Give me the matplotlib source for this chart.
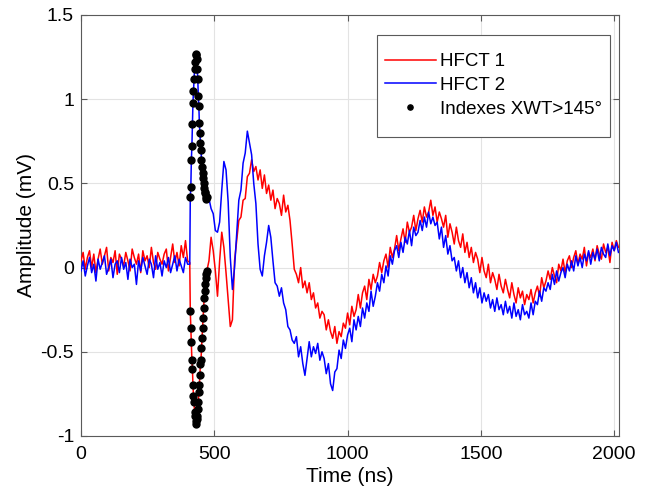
import numpy as np
import matplotlib.pyplot as plt
from matplotlib.patches import Rectangle

plt.rcParams["font.family"] = ["Liberation Sans", "DejaVu Sans"]

# sample spacing (ns) of the three recorded stretches
step_pre, step_spike, step_post = 8, 2, 8
t0_pre, t0_spike, t0_post = 0, 408, 480

# HFCT 1 (red)
hfct1_pre = [0.04, 0.09, -0.01, 0.06, 0.10, 0.00, 0.08, -0.03, 0.05, 0.11,
             0.02, 0.07, 0.12, -0.02, 0.06, 0.03, 0.10, -0.04, 0.08, 0.05,
             0.01, 0.09, 0.04, -0.02, 0.11, 0.06, 0.02, 0.08, -0.03, 0.10,
             0.04, 0.07, 0.00, 0.12, 0.03, -0.01, 0.09, 0.05, 0.02, 0.08,
             0.11, -0.02, 0.06, 0.14, 0.03, 0.09, 0.01, 0.13, 0.06, 0.16, 0.04]
hfct1_spike = [0.03, -0.26, -0.36, -0.44, -0.55, -0.60, -0.70, -0.76, -0.80, -0.86,
               -0.88, -0.91, -0.93, -0.90, -0.88, -0.84, -0.80, -0.74, -0.70, -0.64,
               -0.57, -0.55, -0.48, -0.42, -0.36, -0.30, -0.24, -0.18, -0.14, -0.10,
               -0.06, -0.04, -0.02]
hfct1_post = [
    0.04, 0.18, 0.10, -0.02, -0.17, 0.04, 0.21, 0.12, -0.03, -0.19,
    -0.35, -0.31, 0.04, 0.16, 0.28, 0.30, 0.40, 0.41, 0.54, 0.56,
    0.64, 0.57, 0.60, 0.52, 0.58, 0.47, 0.55, 0.44, 0.49, 0.40,
    0.46, 0.35, 0.41, 0.38, 0.31, 0.43, 0.33, 0.37, 0.28, 0.14,
    -0.01, -0.04, -0.09, 0.00, -0.12, -0.08, -0.15, -0.09, -0.19, -0.15,
    -0.24, -0.21, -0.30, -0.26, -0.28, -0.37, -0.31, -0.38, -0.42, -0.35,
    -0.45, -0.38, -0.41, -0.33, -0.36, -0.27, -0.34, -0.23, -0.29, -0.25,
    -0.16, -0.24, -0.15, -0.11, -0.19, -0.07, -0.13, -0.04, -0.09, -0.05,
    0.03, -0.03, 0.04, 0.08, 0.00, 0.12, 0.06, 0.11, 0.19, 0.10,
    0.17, 0.23, 0.15, 0.27, 0.21, 0.24, 0.31, 0.22, 0.29, 0.34,
    0.27, 0.36, 0.30, 0.33, 0.40, 0.31, 0.36, 0.27, 0.33, 0.29,
    0.24, 0.31, 0.18, 0.26, 0.21, 0.14, 0.24, 0.16, 0.12, 0.20,
    0.09, 0.15, 0.06, 0.12, 0.03, 0.09, 0.05, -0.03, 0.06, -0.02,
    -0.06, 0.02, -0.09, -0.03, -0.07, -0.13, -0.04, -0.11, -0.15, -0.07,
    -0.13, -0.18, -0.09, -0.16, -0.21, -0.12, -0.18, -0.14, -0.22, -0.16,
    -0.19, -0.13, -0.21, -0.15, -0.11, -0.17, -0.06, -0.12, -0.08, -0.02,
    -0.07, 0.00, -0.05, -0.09, 0.02, -0.02, 0.05, -0.03, 0.04, 0.07,
    0.00, 0.06, 0.10, 0.02, 0.08, 0.05, 0.12, 0.01, 0.09, 0.06,
    0.11, 0.04, 0.13, 0.08, 0.05, 0.14, 0.09, 0.12, 0.03, 0.15,
    0.10, 0.16, 0.12]

# HFCT 2 (blue)
hfct2_pre = [-0.02, 0.04, -0.05, 0.01, 0.06, -0.03, 0.02, -0.08, 0.05, -0.01,
             0.03, 0.07, -0.04, 0.00, 0.05, -0.06, 0.02, 0.04, -0.03, 0.06,
             -0.01, 0.03, -0.07, 0.05, 0.00, 0.02, -0.10, 0.04, -0.02, 0.06,
             0.01, -0.04, 0.05, 0.02, -0.06, 0.07, -0.01, 0.03, -0.05, 0.04,
             0.00, 0.06, -0.03, 0.02, 0.07, -0.02, 0.05, 0.01, -0.03, 0.06, 0.02]
hfct2_spike = [0.02, 0.42, 0.48, 0.64, 0.72, 0.85, 0.98, 1.05, 1.12, 1.18,
               1.22, 1.26, 1.27, 1.24, 1.18, 1.12, 1.02, 0.96, 0.86, 0.80,
               0.74, 0.70, 0.64, 0.60, 0.56, 0.53, 0.50, 0.47, 0.45, 0.44,
               0.42, 0.41, 0.42]
hfct2_post = [
    0.41, 0.35, 0.32, 0.22, 0.21, 0.27, 0.46, 0.63, 0.58, 0.39,
    0.06, -0.13, 0.00, 0.20, 0.40, 0.46, 0.62, 0.68, 0.81, 0.74,
    0.67, 0.50, 0.38, 0.14, -0.01, -0.05, 0.07, 0.15, 0.25, 0.18,
    0.04, -0.09, -0.11, -0.17, -0.12, -0.21, -0.25, -0.35, -0.37, -0.43,
    -0.45, -0.41, -0.53, -0.47, -0.57, -0.64, -0.54, -0.44, -0.53, -0.47,
    -0.51, -0.45, -0.55, -0.50, -0.54, -0.63, -0.57, -0.69, -0.73, -0.62,
    -0.60, -0.49, -0.54, -0.43, -0.48, -0.40, -0.36, -0.44, -0.31, -0.37,
    -0.29, -0.35, -0.24, -0.30, -0.21, -0.26, -0.14, -0.23, -0.17, -0.09,
    -0.14, -0.04, -0.09, 0.01, -0.05, 0.07, 0.02, 0.10, 0.13, 0.06,
    0.15, 0.09, 0.18, 0.14, 0.22, 0.13, 0.24, 0.19, 0.21, 0.28,
    0.22, 0.30, 0.24, 0.33, 0.26, 0.30, 0.25, 0.27, 0.17, 0.24,
    0.12, 0.19, 0.08, 0.13, 0.04, 0.06, -0.02, 0.04, -0.06, 0.00,
    -0.09, -0.03, -0.12, -0.06, -0.15, -0.09, -0.18, -0.12, -0.21, -0.15,
    -0.20, -0.16, -0.24, -0.19, -0.26, -0.18, -0.25, -0.22, -0.28, -0.20,
    -0.27, -0.23, -0.30, -0.21, -0.29, -0.25, -0.31, -0.22, -0.28, -0.26,
    -0.30, -0.21, -0.28, -0.20, -0.22, -0.14, -0.20, -0.12, -0.14, -0.09,
    -0.13, -0.04, -0.10, -0.02, -0.08, -0.03, 0.00, -0.06, 0.02, -0.02,
    0.04, -0.02, 0.07, 0.01, 0.06, 0.00, 0.08, 0.04, 0.10, 0.02,
    0.09, 0.05, 0.11, 0.04, 0.12, 0.08, 0.06, 0.14, 0.07, 0.13,
    0.10, 0.15, 0.09]

# samples flagged by the cross wavelet phase (> 145 deg), from this time on
xwt_start = 410


def build(pre, spike, post):
    t = np.concatenate([
        t0_pre + step_pre * np.arange(len(pre)),
        t0_spike + step_spike * np.arange(len(spike)),
        t0_post + step_post * np.arange(len(post)),
    ])
    return t, np.concatenate([pre, spike, post])


t1, y1 = build(hfct1_pre, hfct1_spike, hfct1_post)
t2, y2 = build(hfct2_pre, hfct2_spike, hfct2_post)
ts = t0_spike + step_spike * np.arange(len(hfct1_spike))
mask = ts >= xwt_start
xwt_t = np.concatenate([ts[mask], ts[mask]])
xwt_y = np.concatenate([np.array(hfct1_spike)[mask], np.array(hfct2_spike)[mask]])

edge = "#5a5a5a"
fig = plt.figure(figsize=(6.5, 4.98), dpi=100)
ax = fig.add_axes([0.1246, 0.1245, 0.8277, 0.8455])
ax.plot(t1, y1, color="#ff0000", lw=1.1, label="HFCT 1", zorder=3)
ax.plot(t2, y2, color="#0000ff", lw=1.1, label="HFCT 2", zorder=4)
ax.plot(xwt_t, xwt_y, "o", color="black", ms=5, ls="none",
        label="Indexes XWT>145°", zorder=5)

ax.set_xlim(0, 2018)
ax.set_ylim(-1, 1.5)
ax.set_xticks([0, 500, 1000, 1500, 2000])
ax.set_yticks([-1, -0.5, 0, 0.5, 1, 1.5])
ax.set_yticklabels(["-1", "-0.5", "0", "0.5", "1", "1.5"])
ax.grid(True, color="#e3e3e3", lw=0.8)
ax.set_axisbelow(True)
for s in ax.spines.values():
    s.set_color(edge)
    s.set_linewidth(0.8)
ax.tick_params(direction="in", top=True, right=True, length=4,
               color=edge, labelsize=14)
ax.tick_params(axis="x", pad=7)
ax.tick_params(axis="y", pad=5)
ax.set_xlabel("Time (ns)", fontsize=15, labelpad=3)
ax.set_ylabel("Amplitude (mV)", fontsize=15, labelpad=3)

# legend box drawn separately: MATLAB pads it more vertically than sideways
ax.add_patch(Rectangle((0.551, 0.711), 0.432, 0.2415, transform=ax.transAxes,
                       facecolor="white", edgecolor=edge, lw=0.8, zorder=6))
leg = ax.legend(loc="center", bbox_to_anchor=(0.767, 0.833), fontsize=13.5,
                frameon=False, handlelength=2.7, borderpad=0.0,
                labelspacing=0.35, handletextpad=0.25, markerscale=0.75)
leg.set_zorder(7)

fig.savefig("out.png", dpi=100)
